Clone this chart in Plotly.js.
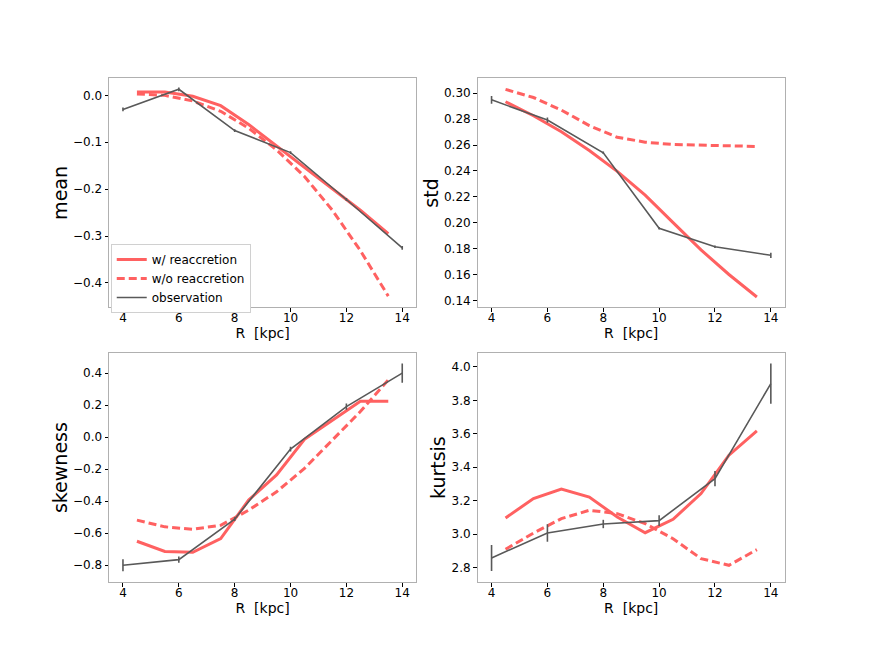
<!DOCTYPE html>
<html>
<head>
<meta charset="utf-8">
<script src="https://cdn.plot.ly/plotly-3.0.1.min.js"></script>
<style>
  html, body { margin: 0; padding: 0; background: #fff; }
  #chart { width: 872px; height: 654px; }
</style>
</head>
<body>
<div id="chart"></div>
<script>
/***** data *****/
var rModel = [4.5, 5.5, 6.5, 7.5, 8.5, 9.5, 10.5, 11.5, 12.5, 13.5];
var rObs = [4, 6, 8, 10, 12, 14];

// mean
var meanWith = [0.007, 0.007, -0.002, -0.022, -0.062, -0.108, -0.152, -0.199, -0.245, -0.295];
var meanWithout = [0.003, 0.0, -0.012, -0.034, -0.070, -0.116, -0.173, -0.245, -0.331, -0.428];
var meanObs = [-0.030, 0.013, -0.075, -0.122, -0.222, -0.325];
var meanErr = [0.004, 0.004, 0.003, 0.003, 0.003, 0.004];

// std
var stdWith = [0.2934, 0.2826, 0.2703, 0.2558, 0.2397, 0.2213, 0.2001, 0.1790, 0.1600, 0.1426];
var stdWithout = [0.3030, 0.2967, 0.2870, 0.2750, 0.2660, 0.2622, 0.2604, 0.2599, 0.2599, 0.2589];
var stdObs = [0.2949, 0.2793, 0.2540, 0.1957, 0.1814, 0.1748];
var stdErr = [0.003, 0.002, 0.001, 0.001, 0.001, 0.002];

// skewness
var skewWith = [-0.650, -0.714, -0.719, -0.633, -0.393, -0.236, -0.013, 0.108, 0.225, 0.225];
var skewWithout = [-0.518, -0.560, -0.575, -0.550, -0.456, -0.341, -0.195, -0.017, 0.160, 0.358];
var skewObs = [-0.800, -0.765, -0.512, -0.074, 0.191, 0.400];
var skewErr = [0.037, 0.020, 0.012, 0.015, 0.020, 0.060];

// kurtosis
var kurtWith = [3.097, 3.213, 3.270, 3.222, 3.103, 3.009, 3.089, 3.243, 3.472, 3.617];
var kurtWithout = [2.910, 3.007, 3.093, 3.143, 3.123, 3.063, 2.973, 2.854, 2.814, 2.908];
var kurtObs = [2.858, 3.007, 3.061, 3.081, 3.332, 3.900];
var kurtErr = [0.078, 0.052, 0.025, 0.032, 0.045, 0.120];

var xTicks = [4, 6, 8, 10, 12, 14];

/***** styles *****/
var red = '#ff6161';
var grey = '#595959';
var font = 'DejaVu Sans, sans-serif';

function panel(n, yWith, yWithout, yObs, yErr) {
  var xa = n === 1 ? 'x' : 'x' + n;
  var ya = n === 1 ? 'y' : 'y' + n;
  var leg = n === 1;
  return [
    {
      x: rModel, y: yWith, xaxis: xa, yaxis: ya,
      type: 'scatter', mode: 'lines', name: 'w/ reaccretion', showlegend: leg,
      line: {color: red, width: 3}
    },
    {
      x: rModel, y: yWithout, xaxis: xa, yaxis: ya,
      type: 'scatter', mode: 'lines', name: 'w/o reaccretion', showlegend: leg,
      line: {color: red, width: 3, dash: '8px,4px'}
    },
    {
      x: rObs, y: yObs, xaxis: xa, yaxis: ya,
      type: 'scatter', mode: 'lines', name: 'observation', showlegend: leg,
      line: {color: grey, width: 1.6},
      error_y: {type: 'data', array: yErr, visible: true, color: grey, thickness: 1.6, width: 0}
    }
  ];
}

var data = [].concat(
  panel(1, meanWith, meanWithout, meanObs, meanErr),
  panel(2, stdWith, stdWithout, stdObs, stdErr),
  panel(3, skewWith, skewWithout, skewObs, skewErr),
  panel(4, kurtWith, kurtWithout, kurtObs, kurtErr)
);

function xAxis(domain, anchor) {
  return {
    domain: domain, anchor: anchor, range: [3.5, 14.5],
    tickvals: xTicks, ticks: 'outside', ticklen: 3.5, tickwidth: 1, tickcolor: '#000',
    ticklabelstandoff: -4,
    showline: true, mirror: true, linecolor: '#b0b0b0', linewidth: 1,
    showgrid: false, zeroline: false,
    tickfont: {family: font, size: 12, color: '#000'},
    title: {text: 'R\u00a0\u00a0[kpc]', font: {family: font, size: 14, color: '#000'}, standoff: 0}
  };
}

function yAxis(domain, anchor, range, dtick, fmt, label) {
  return {
    domain: domain, anchor: anchor, range: range, dtick: dtick, tickformat: fmt,
    ticks: 'outside', ticklen: 3.5, tickwidth: 1, tickcolor: '#000',
    showline: true, mirror: true, linecolor: '#b0b0b0', linewidth: 1,
    showgrid: false, zeroline: false,
    tickfont: {family: font, size: 12, color: '#000'},
    title: {text: label, font: {family: font, size: 19, color: '#000'}, standoff: 0}
  };
}

var colL = [0.125, 0.4773];
var colR = [0.5477, 0.9];
var rowT = [0.53, 0.88];
var rowB = [0.11, 0.46];

var layout = {
  width: 872, height: 654,
  margin: {l: 0, r: 0, t: 0, b: 0},
  paper_bgcolor: '#fff', plot_bgcolor: '#fff',
  font: {family: font, color: '#000'},
  showlegend: true,
  legend: {
    x: 0.127, y: 0.627, xanchor: 'left', yanchor: 'top',
    bgcolor: '#fff', bordercolor: '#d0d0d0', borderwidth: 1,
    font: {family: font, size: 12, color: '#000'},
    tracegroupgap: 0, itemwidth: 30
  },
  xaxis: xAxis(colL, 'y'),
  yaxis: yAxis(rowT, 'x', [-0.452, 0.036], 0.1, '.1f', 'mean'),
  xaxis2: xAxis(colR, 'y2'),
  yaxis2: yAxis(rowT, 'x2', [0.1346, 0.3114], 0.02, '.2f', 'std'),
  xaxis3: xAxis(colL, 'y3'),
  yaxis3: yAxis(rowB, 'x3', [-0.905, 0.525], 0.2, '.1f', 'skewness'),
  xaxis4: xAxis(colR, 'y4'),
  yaxis4: yAxis(rowB, 'x4', [2.714, 4.082], 0.2, '.1f', 'kurtsis')
};

var config = {staticPlot: true, displayModeBar: false};
Plotly.newPlot('chart', data, layout, config);
</script>
</body>
</html>
